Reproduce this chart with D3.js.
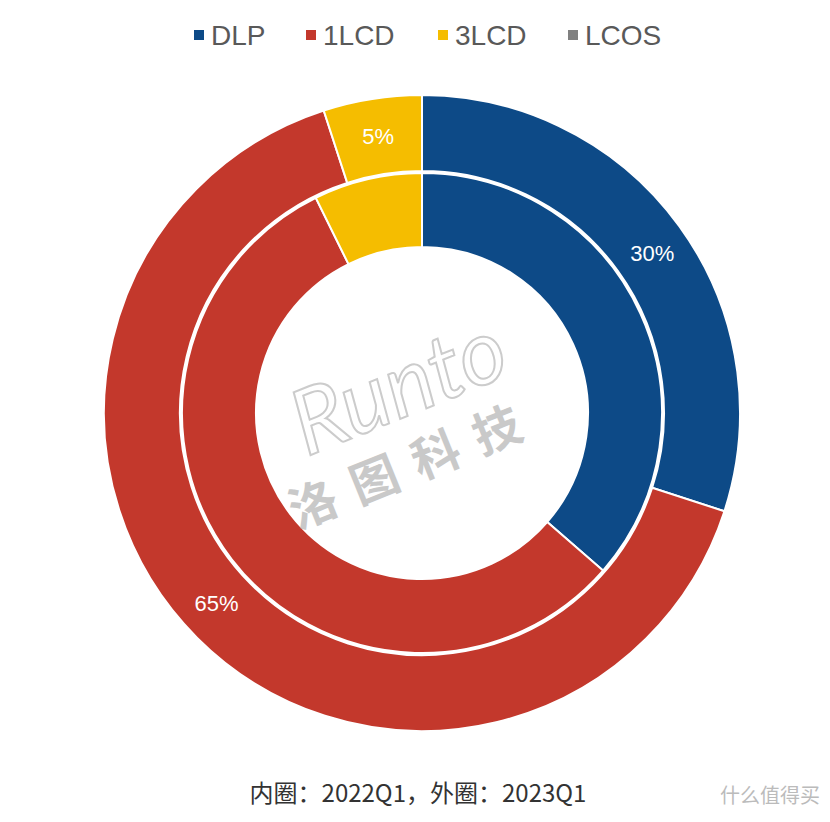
<!DOCTYPE html>
<html><head><meta charset="utf-8">
<script src="https://cdn.jsdelivr.net/npm/d3@7"></script>
<style>body{margin:0;background:#fff}</style>
</head><body>
<svg id="chart" width="830" height="822"></svg>
<script>
var categories = ["DLP", "1LCD", "3LCD", "LCOS"];
var colors = ["#0d4a87", "#c3382c", "#f5bd00", "#808080"];
var inner2022 = [36.4, 56.3, 7.3, 0];
var outer2023 = [30, 65, 5, 0];
var outerLabels = ["30%", "65%", "5%", ""];

var svg = d3.select("#chart");
var cx = 422, cy = 413;
var g = svg.append("g").attr("transform", "translate(" + cx + "," + cy + ")");

var pie = d3.pie().sort(null).value(function(d) { return d; });
var arcOuter = d3.arc().innerRadius(242).outerRadius(318);
var arcInner = d3.arc().innerRadius(166).outerRadius(240);

// inner ring: 2022Q1
g.selectAll(".inner").data(pie(inner2022)).enter().append("path")
    .attr("d", arcInner)
    .attr("fill", function(d, i) { return colors[i]; })
    .attr("stroke", "#fff").attr("stroke-width", 2);

// outer ring: 2023Q1
g.selectAll(".outer").data(pie(outer2023)).enter().append("path")
    .attr("d", arcOuter)
    .attr("fill", function(d, i) { return colors[i]; })
    .attr("stroke", "#fff").attr("stroke-width", 2);

// labels on outer ring (label angle inside each slice)
var labelAngle = [0.965, 3.965, null];
var labelArc = d3.arc().innerRadius(280).outerRadius(280);
g.selectAll(".lbl").data(pie(outer2023)).enter().append("text")
    .attr("transform", function(d, i) {
        var a = labelAngle[i];
        var c = a == null ? labelArc.centroid(d) : labelArc.centroid({startAngle: a, endAngle: a});
        return "translate(" + c[0] + "," + c[1] + ")";
    })
    .attr("text-anchor", "middle").attr("dy", "0.35em")
    .attr("font-family", "Liberation Sans Narrow, Liberation Sans, sans-serif")
    .attr("font-size", 22).attr("fill", "#fff")
    .text(function(d, i) { return outerLabels[i]; });

// legend
var legendX = [194, 306, 438, 568];
var legend = svg.selectAll(".leg").data(categories).enter().append("g")
    .attr("transform", function(d, i) { return "translate(" + legendX[i] + ",35)"; });
legend.append("rect").attr("x", 0).attr("y", -5).attr("width", 10).attr("height", 10)
    .attr("fill", function(d, i) { return colors[i]; });
legend.append("text").attr("x", 17).attr("dy", "0.36em")
    .attr("font-family", "Liberation Sans Narrow, sans-serif")
    .attr("font-size", 28).attr("fill", "#595959")
    .text(function(d) { return d; });

// watermark
svg.append("text").attr("x", 410).attr("y", 415).attr("text-anchor", "middle")
    .attr("transform", "rotate(-22,410,415)")
    .attr("font-family", "Lato, sans-serif").attr("font-size", 90).attr("font-style", "italic")
    .attr("fill", "none").attr("stroke", "#9a9a9a").attr("stroke-width", 2).attr("opacity", 0.5)
    .text("Runto");
svg.append("text").attr("x", 420).attr("y", 480).attr("text-anchor", "middle")
    .attr("transform", "rotate(-22,420,480)")
    .attr("font-family", "Noto Sans CJK SC").attr("font-weight", "bold").attr("font-size", 48)
    .attr("letter-spacing", 18).attr("fill", "#8a8a8a").attr("opacity", 0.45)
    .text("洛图科技");

// caption
svg.append("text").attr("x", 418).attr("y", 802).attr("text-anchor", "middle")
    .attr("font-family", "Noto Sans CJK SC").attr("font-size", 24).attr("fill", "#333")
    .text("内圈：2022Q1，外圈：2023Q1");
svg.append("text").attr("x", 820).attr("y", 803).attr("text-anchor", "end")
    .attr("font-family", "Noto Sans CJK SC").attr("font-size", 20).attr("fill", "#bbb")
    .text("什么值得买");
</script>
</body></html>
